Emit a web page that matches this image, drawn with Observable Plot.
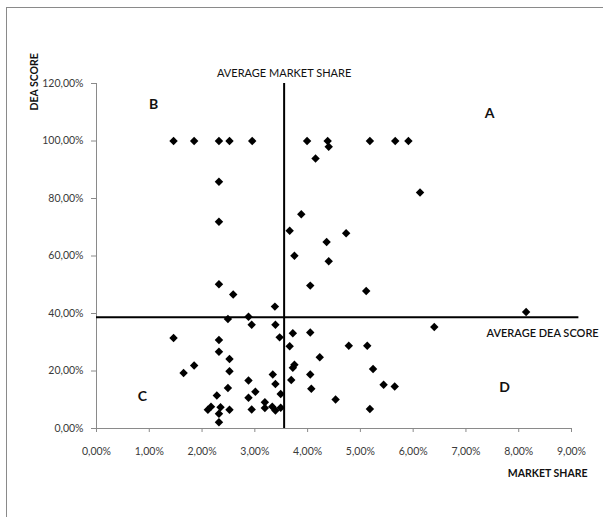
<!DOCTYPE html>
<html>
<head>
<meta charset="utf-8">
<script src="https://cdn.jsdelivr.net/npm/d3@7"></script>
<script src="https://cdn.jsdelivr.net/npm/@observablehq/plot@0.6"></script>
<style>
  html, body { margin: 0; padding: 0; background: #fff; }
  #wrap { position: relative; width: 603px; height: 517px; overflow: hidden; }
  #wrap svg { position: absolute; left: 0; top: 0; }
  #border { position: absolute; left: 6px; top: 7px; right: -10px; bottom: -10px;
            border-left: 1px solid #8a8a8a; border-top: 1px solid #8a8a8a; pointer-events: none; }
</style>
</head>
<body>
<div id="wrap"><div id="border"></div></div>
<script>
// Market share (%) and DEA score (%) of each unit
const marketShare = [
  1.46, 1.85, 2.32, 2.52, 2.95, 3.99, 4.38, 4.40, 5.18, 5.66, 5.91,
  4.15, 2.32, 6.13, 3.88, 2.32, 3.66, 4.73, 4.36, 3.75, 4.40,
  2.32, 4.05, 5.11, 2.59, 3.38, 8.14, 2.49, 2.88, 2.94, 3.39,
  6.40, 3.72, 4.05, 3.47, 1.46, 2.32, 3.66, 4.78, 5.13, 2.32,
  4.23, 2.52, 3.75, 3.72, 1.85, 5.24, 2.52, 1.65, 3.34, 4.05,
  3.69, 2.88, 3.39, 5.44, 5.65, 2.49, 4.07, 3.01, 3.49, 2.28,
  2.88, 4.53, 3.19, 2.17, 2.35, 3.33, 3.49, 3.19, 5.18, 2.94,
  2.11, 2.52, 3.39, 2.32, 2.32
];
const deaScore = [
  100, 100, 100, 100, 100, 100, 100, 98.0, 100, 100, 100,
  93.9, 85.8, 82.1, 74.5, 71.9, 68.8, 67.9, 64.9, 60.1, 58.2,
  50.2, 49.7, 47.8, 46.6, 42.4, 40.5, 38.1, 38.9, 36.1, 36.1,
  35.3, 33.1, 33.4, 31.7, 31.5, 30.8, 28.6, 28.8, 28.8, 26.7,
  24.8, 24.2, 22.2, 21.1, 21.9, 20.7, 19.9, 19.3, 18.8, 18.8,
  16.9, 16.7, 15.5, 15.2, 14.6, 14.1, 13.8, 12.8, 12.0, 11.5,
  10.7, 10.1, 9.1, 7.6, 7.4, 7.6, 7.2, 7.1, 6.8, 6.6,
  6.5, 6.5, 6.25, 5.1, 2.2
];

// Averages used as quadrant dividers
const avgMarketShare = 3.555;
const avgDeaScore = 38.7;
const avgLineEnd = 9.14;

// Axis ticks
const xTicks = [0, 1, 2, 3, 4, 5, 6, 7, 8, 9];
const yTicks = [0, 20, 40, 60, 80, 100, 120];

// Quadrant labels
const quadLabels = ["A", "B", "C", "D"];
const quadX = [7.45, 1.08, 0.87, 7.73];
const quadY = [109.4, 112.8, 11.1, 14.2];

const points = marketShare.map((x, i) => ({x, y: deaScore[i]}));
const quads = quadLabels.map((t, i) => ({t, x: quadX[i], y: quadY[i]}));
const fmt = d => d.toFixed(2).replace(".", ",") + "%";

const chart = Plot.plot({
  width: 603,
  height: 517,
  marginLeft: 96,
  marginRight: 32,
  marginTop: 83,
  marginBottom: 89,
  style: {fontFamily: "Lato, 'Noto Sans', sans-serif", fontSize: "10.5px", color: "#333", background: "transparent", overflow: "visible"},
  x: {domain: [0, 9]},
  y: {domain: [0, 120]},
  marks: [
    Plot.ruleY([0], {stroke: "#8a8a8a"}),
    Plot.ruleX([0], {stroke: "#8a8a8a"}),
    Plot.axisX({ticks: xTicks, tickFormat: fmt, tickSize: 4, tickPadding: 15, stroke: "#8a8a8a", fill: "#3a3a3a", label: null}),
    Plot.axisY({ticks: yTicks, tickFormat: fmt, tickSize: 5, tickPadding: 8, stroke: "#8a8a8a", fill: "#3a3a3a", label: null}),
    Plot.ruleX([avgMarketShare], {y1: 0, y2: 120, stroke: "black", strokeWidth: 2}),
    Plot.ruleY([avgDeaScore], {x1: 0, x2: avgLineEnd, stroke: "black", strokeWidth: 2}),
    Plot.dot(points, {x: "x", y: "y", symbol: "diamond2", r: 3.8, fill: "black", stroke: "none"}),
    Plot.text(quads, {x: "x", y: "y", text: "t", fontSize: 14, fontWeight: "bold", fill: "#111"}),
    Plot.text(["AVERAGE MARKET SHARE"], {x: avgMarketShare, y: 120, dy: -10, fontSize: 11, fill: "#111"}),
    Plot.text(["AVERAGE DEA SCORE"], {x: 7.39, y: 33.0, textAnchor: "start", fontSize: 11, fontWeight: 600, fill: "#111"}),
    Plot.text(["DEA SCORE"], {frameAnchor: "top-left", rotate: -90, dx: -66, dy: 27, fontSize: 10.5, fontWeight: "bold", fill: "#111"}),
    Plot.text(["MARKET SHARE"], {frameAnchor: "bottom-right", dx: 16, dy: 48, textAnchor: "end", fontSize: 10.5, fontWeight: "bold", fill: "#111"})
  ]
});
document.getElementById("wrap").prepend(chart);
</script>
</body>
</html>
